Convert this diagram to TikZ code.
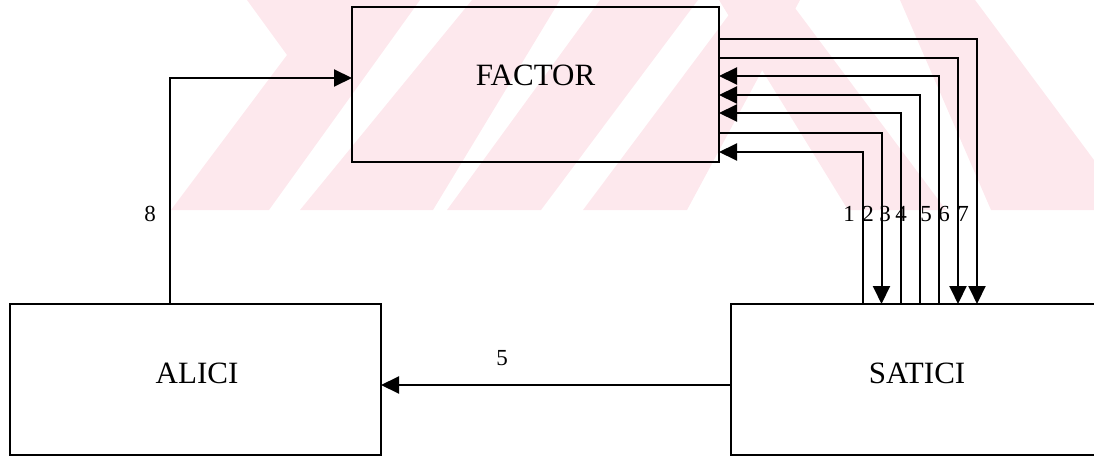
\documentclass[tikz,border=0pt]{standalone}
\usepackage{fontspec}
\newfontfamily\boxfont{Liberation Serif}
\usetikzlibrary{arrows.meta}
\definecolor{wmpink}{RGB}{253,232,237}
\begin{document}
\begin{tikzpicture}[x=1pt,y=-1pt, line width=2pt,
  box/.style={draw, rectangle, inner sep=0pt, outer sep=0pt},
  boxlabel/.style={font=\boxfont\fontsize{31}{31}\selectfont, inner sep=0pt},
  num/.style={font=\boxfont\fontsize{23}{23}\selectfont, inner sep=0pt},
  arr/.style={-{Triangle[length=18pt,width=17pt]}},
  wm/.style={fill=wmpink, draw=none}]
\useasboundingbox (0,0) rectangle (1094,457);
\clip (0,0) rectangle (1094,457);
% faint watermark
\begin{scope}
\clip (0,0) rectangle (1094,210);
\fill[wm] (171,210) -- (287,55) -- (247,0) -- (420,0) -- (269,210) -- cycle;
\fill[wm] (300,210) -- (472,0) -- (560,0) -- (433,210) -- cycle;
\fill[wm] (447,210) -- (600,0) -- (698,0) -- (541,210) -- cycle;
\fill[wm] (583,210) -- (740,0) -- (800,0) -- (687,210) -- cycle;
\fill[wm] (719,0) -- (789,0) -- (946,210) -- (848,210) -- cycle;
\fill[wm] (900,0) -- (975,0) -- (1094,160) -- (1094,210) -- (991,210) -- cycle;
\end{scope}
% boxes
\node[box, minimum width=367pt, minimum height=155pt] (factor) at (535.5,84.5) {};
\node[box, minimum width=371pt, minimum height=151pt] (alici) at (195.5,379.5) {};
\node[box, minimum width=369pt, minimum height=151pt] (satici) at (915.5,379.5) {};
\node[boxlabel] (tf) at (535.5,75) {FACTOR};
\node[boxlabel] (ta) at (197,373) {ALICI};
\node[boxlabel] (ts) at (917,373) {SATICI};
% helper coordinates
\coordinate (x8) at (170,0);
\coordinate (y8) at (0,78);
\coordinate (yb) at (0,385);
\coordinate (x1) at (863,0);   \coordinate (y1) at (0,152);
\coordinate (x2) at (881.5,0); \coordinate (y2) at (0,133);
\coordinate (x3) at (900.5,0); \coordinate (y3) at (0,113);
\coordinate (x4) at (919.5,0); \coordinate (y4) at (0,95);
\coordinate (x5) at (939,0);   \coordinate (y5) at (0,76);
\coordinate (x6) at (958,0);   \coordinate (y6) at (0,58);
\coordinate (x7) at (977,0);   \coordinate (y7) at (0,39);
% connectors
\draw[arr] (alici.north -| x8) |- (factor.west |- y8);
\draw[arr] (satici.west |- yb) -- (alici.east |- yb);
\draw[arr] (satici.north -| x1) |- (factor.east |- y1);
\draw[arr] (factor.east |- y2) -| (satici.north -| x2);
\draw[arr] (satici.north -| x3) |- (factor.east |- y3);
\draw[arr] (satici.north -| x4) |- (factor.east |- y4);
\draw[arr] (satici.north -| x5) |- (factor.east |- y5);
\draw[arr] (factor.east |- y6) -| (satici.north -| x6);
\draw[arr] (factor.east |- y7) -| (satici.north -| x7);
% labels
\node[num] (n8) at (150,214) {8};
\node[num] (nb5) at (502,358) {5};
\node[num] (n1) at (849,214) {1};
\node[num] (n2) at (868,214) {2};
\node[num] (n3) at (885,214) {3};
\node[num] (n4) at (901,214) {4};
\node[num] (n5) at (926,214) {5};
\node[num] (n6) at (944,214) {6};
\node[num] (n7) at (963,214) {7};
\end{tikzpicture}
\end{document}
